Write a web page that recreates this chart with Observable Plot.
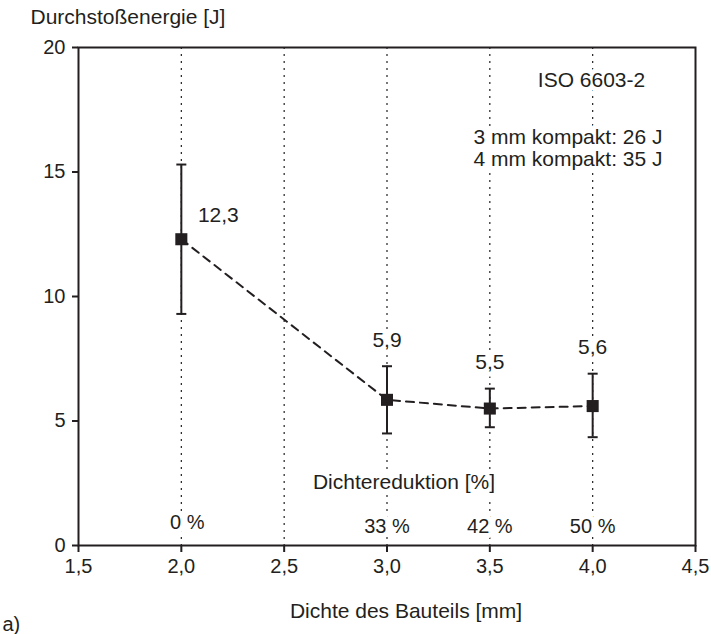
<!DOCTYPE html>
<html><head><meta charset="utf-8">
<script src="https://cdn.jsdelivr.net/npm/d3@7"></script>
<script src="https://cdn.jsdelivr.net/npm/@observablehq/plot@0.6"></script>
<style>body{margin:0;background:#fff}</style>
</head><body><div id="chart"></div>
<script>
const thickness = [2.0, 3.0, 3.5, 4.0];
const energy = [12.3, 5.85, 5.5, 5.6];
const errLow = [9.3, 4.5, 4.75, 4.35];
const errHigh = [15.3, 7.2, 6.3, 6.9];
const valueLabels = ["12,3", "5,9", "5,5", "5,6"];
const reductionLabels = ["0 %", "33 %", "42 %", "50 %"];
const gridX = [2.0, 2.5, 3.0, 3.5, 4.0];
const xTicks = [1.5, 2.0, 2.5, 3.0, 3.5, 4.0, 4.5];
const yTicks = [0, 5, 10, 15, 20];
const compactNotes = ["3 mm kompakt: 26 J", "4 mm kompakt: 35 J"];

const ink = "#231f20";
const font = "'Liberation Sans', Arial, sans-serif";
const data = thickness.map((x, i) => ({x, y: energy[i], lo: errLow[i], hi: errHigh[i], label: valueLabels[i], red: reductionLabels[i]}));
const capSymbol = {draw(ctx, size) { const w = Math.sqrt(size / Math.PI); ctx.moveTo(-w, 0); ctx.lineTo(w, 0); }};
const comma = d => d3.format(".1f")(d).replace(".", ",");
const halo = {fill: ink, stroke: "white", strokeWidth: 10, strokeLinejoin: "round", paintOrder: "stroke"};

const chart = Plot.plot({
  width: 711, height: 634,
  marginTop: 47, marginBottom: 89, marginLeft: 78, marginRight: 16,
  style: {fontFamily: font, fontSize: "20px", color: ink, background: "#fff"},
  x: {domain: [1.5, 4.5]},
  y: {domain: [0, 20]},
  marks: [
    Plot.ruleX(gridX, {stroke: ink, strokeWidth: 1.2, strokeDasharray: "2,5"}),
    Plot.text(["Dichtereduktion [%]"], {frameAnchor: "bottom", dx: 17, dy: -63, lineAnchor: "middle", fontSize: 21, ...halo}),
    Plot.text(data, {filter: (d, i) => i === 0, x: "x", text: "red", frameAnchor: "bottom", dx: 6, dy: -23, lineAnchor: "middle", fontSize: 20, ...halo}),
    Plot.text(data, {filter: (d, i) => i > 0, x: "x", text: "red", frameAnchor: "bottom", dy: -19, lineAnchor: "middle", fontSize: 20, ...halo}),
    Plot.lineY(data, {x: "x", y: "y", stroke: ink, strokeWidth: 2, strokeDasharray: "8,6"}),
    Plot.ruleX(data, {x: "x", y1: "lo", y2: "hi", stroke: ink, strokeWidth: 2}),
    Plot.dot(data, {x: "x", y: "lo", symbol: capSymbol, r: 5, stroke: ink, strokeWidth: 2, fill: "none"}),
    Plot.dot(data, {x: "x", y: "hi", symbol: capSymbol, r: 5, stroke: ink, strokeWidth: 2, fill: "none"}),
    Plot.dot(data, {x: "x", y: "y", symbol: "square", r: 6.8, fill: ink, stroke: "none"}),
    Plot.text(data, {filter: (d, i) => i === 0, x: "x", y: "y", text: "label", dx: 37, dy: -24, fontSize: 21, ...halo}),
    Plot.text(data, {filter: (d, i) => i > 0, x: "x", y: "hi", text: "label", dy: -26, fontSize: 21, ...halo}),
    Plot.text(["ISO 6603-2"], {frameAnchor: "top-right", dx: -104, dy: 33, textAnchor: "middle", lineAnchor: "middle", fontSize: 21, ...halo}),
    Plot.text([compactNotes[0]], {frameAnchor: "top-right", dx: -33, dy: 90, textAnchor: "end", lineAnchor: "middle", fontSize: 21, ...halo}),
    Plot.text([compactNotes[1]], {frameAnchor: "top-right", dx: -33, dy: 112, textAnchor: "end", lineAnchor: "middle", fontSize: 21, ...halo}),
    Plot.axisX({ticks: xTicks, tickFormat: comma, tickSize: 7, tickPadding: 6, label: null, stroke: ink, strokeWidth: 2, fill: ink, fontSize: 20}),
    Plot.axisY({ticks: yTicks, tickFormat: d => String(d), tickSize: 6, tickPadding: 7, label: null, stroke: ink, strokeWidth: 2, fill: ink, fontSize: 20}),
    Plot.frame({stroke: ink, strokeWidth: 2}),
    Plot.text(["Durchstoßenergie [J]"], {frameAnchor: "top-left", dx: -48, dy: -30, textAnchor: "start", lineAnchor: "middle", fontSize: 21, fill: ink}),
    Plot.text(["Dichte des Bauteils [mm]"], {frameAnchor: "bottom", dx: 19, dy: 66, lineAnchor: "middle", fontSize: 21, fill: ink}),
    Plot.text(["a)"], {frameAnchor: "bottom-left", dx: -76, dy: 79, textAnchor: "start", lineAnchor: "middle", fontSize: 20, fill: ink})
  ]
});
document.getElementById("chart").appendChild(chart);
</script>
</body></html>
